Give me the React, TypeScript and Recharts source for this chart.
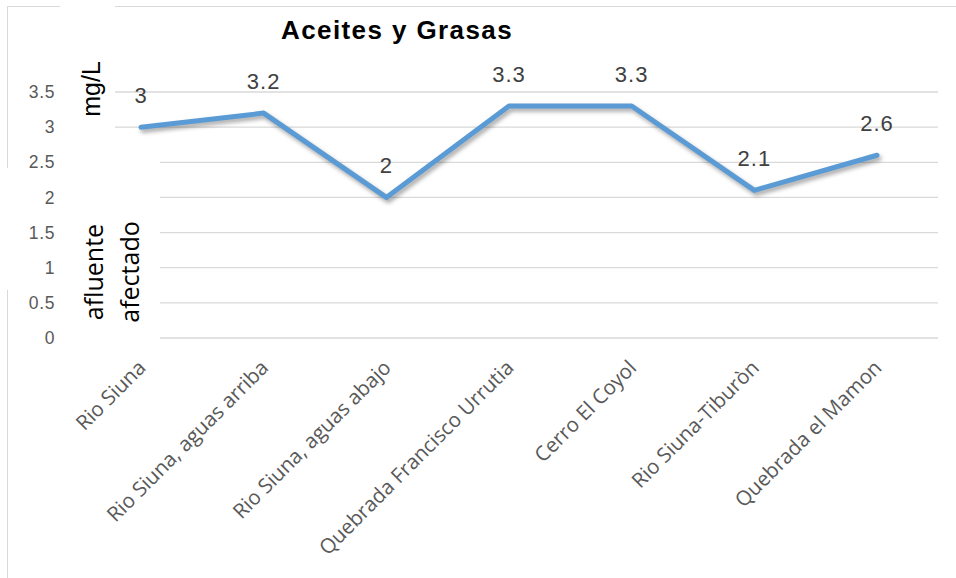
import { LineChart, Line, XAxis, YAxis, CartesianGrid, LabelList } from "recharts";

const sites = [
	"Rio Siuna",
	"Rio Siuna, aguas arriba",
	"Rio Siuna, aguas abajo",
	"Quebrada Francisco Urrutia",
	"Cerro El Coyol",
	"Rio Siuna-Tiburòn",
	"Quebrada el Mamon",
];
const grasas = [3, 3.2, 2, 3.3, 3.3, 2.1, 2.6];
const yTicks = [0, 0.5, 1, 1.5, 2, 2.5, 3, 3.5];

const data = sites.map((site, i) => ({ site, grasas: grasas[i] }));

const SiteTick = (props: any) => {
	const { x, y, payload } = props;
	return (
		<g transform={`translate(${x},${y})`}>
			<text
				x={6}
				y={23}
				transform="rotate(-45, 6, 23)"
				textAnchor="end"
				fill="#595959"
				fontSize={20.5}
				fontFamily="'Open Sans', sans-serif"
			>
				{payload.value}
			</text>
		</g>
	);
};

// the white text boxes in the original hide the left end of the gridlines
const GridLine = (props: any) => {
	const { y1, y2, x2, index } = props;
	return (
		<line
			key={`h-${index}`}
			x1={y1 > 140 ? 160 : 115}
			y1={y1}
			x2={x2}
			y2={y2}
			stroke="#D9D9D9"
			strokeWidth={1.3}
		/>
	);
};

const border = "#D9D9D9";

export default function App() {
	return (
		<div
			style={{
				position: "absolute",
				left: 0,
				top: 0,
				width: 956,
				height: 578,
				background: "#fff",
				fontFamily: "'Liberation Sans', Arial, sans-serif",
			}}
		>
			<style>{`.shadowLine .recharts-line-curve { filter: drop-shadow(2px 3px 2px rgba(0,0,0,0.35)); }`}</style>
			{/* chart area border fragments */}
			<div style={{ position: "absolute", left: 7, top: 6, width: 53, height: 1, background: border }} />
			<div style={{ position: "absolute", left: 115, top: 6, width: 841, height: 1, background: border }} />
			<div style={{ position: "absolute", left: 7, top: 6, width: 1, height: 162, background: border }} />
			<div style={{ position: "absolute", left: 7, top: 290, width: 1, height: 288, background: border }} />

			<LineChart
				width={956}
				height={578}
				data={data}
				margin={{ top: 92, right: 18, left: 20, bottom: 0 }}
			>
				<CartesianGrid vertical={false} horizontal={GridLine} />
				<XAxis
					dataKey="site"
					interval={0}
					height={240}
					axisLine={false}
					tickLine={false}
					padding={{ left: 61, right: 61 }}
					tick={SiteTick}
				/>
				<YAxis
					domain={[0, 3.5]}
					ticks={yTicks}
					width={60}
					axisLine={false}
					tickLine={false}
					tickMargin={19}
					tick={{ fill: "#595959", fontSize: 17.5, letterSpacing: 0.6 }}
				/>
				<Line
					className="shadowLine"
					dataKey="grasas"
					stroke="#5B9BD5"
					strokeWidth={5}
					strokeLinejoin="round"
					strokeLinecap="round"
					dot={false}
					activeDot={false}
					isAnimationActive={false}
				>
					<LabelList
						dataKey="grasas"
						position="top"
						offset={24}
						fill="#404040"
						fontSize={22}
						style={{ letterSpacing: 1 }}
					/>
				</Line>
			</LineChart>

			<div
				style={{
					position: "absolute",
					left: 397,
					top: 30,
					transform: "translate(-50%, -50%)",
					fontSize: 26,
					fontWeight: "bold",
					letterSpacing: 1.4,
					color: "#000",
					whiteSpace: "nowrap",
				}}
			>
				Aceites y Grasas
			</div>
			<div
				style={{
					position: "absolute",
					left: 91,
					top: 89,
					transform: "translate(-50%, -50%) rotate(-90deg)",
					fontSize: 25,
					color: "#000",
					whiteSpace: "nowrap",
				}}
			>
				mg/L
			</div>
			<div
				style={{
					position: "absolute",
					left: 111,
					top: 272,
					transform: "translate(-50%, -50%) rotate(-90deg)",
					fontSize: 25,
					lineHeight: "36px",
					fontFamily: "'Open Sans', sans-serif",
					color: "#000",
					whiteSpace: "nowrap",
					textAlign: "center",
				}}
			>
				afluente
				<br />
				afectado
			</div>
		</div>
	);
}
